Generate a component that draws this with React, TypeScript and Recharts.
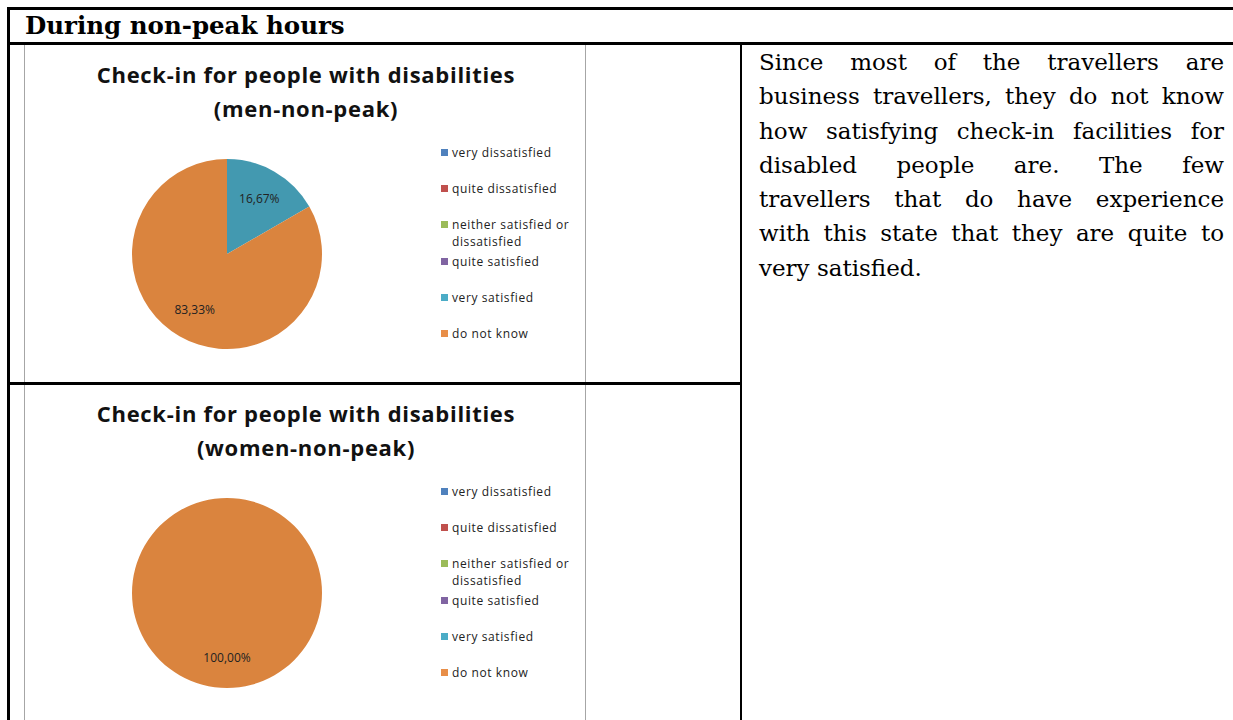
import React from 'react'
import { PieChart, Pie, Cell } from 'recharts'

const categories = [
  'very dissatisfied',
  'quite dissatisfied',
  'neither satisfied or dissatisfied',
  'quite satisfied',
  'very satisfied',
  'do not know',
]
const menValues = [0, 0, 0, 0, 16.67, 83.33]
const womenValues = [0, 0, 0, 0, 0, 100]
const sliceColors = ['#4A7EBB', '#BE4B48', '#98B954', '#7D60A0', '#4399B0', '#DA843E']
const legendColors = ['#4F81BD', '#C0504D', '#9BBB59', '#8064A2', '#4BACC6', '#E88E48']
const chartTitles = ['Check-in for people with disabilities', 'Check-in for people with disabilities']
const chartSubtitles = ['(men-non-peak)', '(women-non-peak)']
const sectionTitle = 'During non-peak hours'
const noteLines = [
  'Since most of the travellers are',
  'business travellers, they do not know',
  'how satisfying check-in facilities for',
  'disabled people are. The few',
  'travellers that do have experience',
  'with this state that they are quite to',
  'very satisfied.',
]

const RADIAN = Math.PI / 180
const chartFont = '"Open Sans", Lato, sans-serif'

function fmt(v: number) {
  return v.toFixed(2).replace('.', ',') + '%'
}

function renderLabel(props: any) {
  const { cx, cy, midAngle, outerRadius, value } = props
  if (!value) return null
  const r = outerRadius * 0.68
  const x = cx + r * Math.cos(-midAngle * RADIAN)
  const y = cy + r * Math.sin(-midAngle * RADIAN)
  return (
    <text x={x} y={y} textAnchor="middle" dominantBaseline="central" fontSize={12} fontFamily={chartFont} fill="#222">
      {fmt(value)}
    </text>
  )
}

function PieBlock({ values, title, subtitle, top }: { values: number[]; title: string; subtitle: string; top: number }) {
  const data = categories.map((name, i) => ({ name, value: values[i] }))
  return (
    <div
      style={{
        position: 'absolute',
        left: 24,
        top,
        width: 562,
        height: 337,
        borderLeft: '1px solid #a6a6a6',
        borderRight: '1px solid #a6a6a6',
        boxSizing: 'border-box',
      }}
    >
      <div
        style={{
          position: 'absolute',
          left: 0,
          top: 12,
          width: 562,
          textAlign: 'center',
          fontFamily: chartFont,
          fontWeight: 700,
          fontSize: 22,
          letterSpacing: 0.7,
          lineHeight: '34px',
          color: '#111',
          whiteSpace: 'nowrap',
        }}
      >
        <div>{title}</div>
        <div>{subtitle}</div>
      </div>
      <div style={{ position: 'absolute', left: 0, top: 0 }}>
        <PieChart width={560} height={337} margin={{ top: 0, right: 0, bottom: 0, left: 0 }}>
          <Pie
            data={data}
            dataKey="value"
            nameKey="name"
            cx={202}
            cy={209}
            outerRadius={95}
            startAngle={90}
            endAngle={-270}
            stroke="none"
            label={renderLabel}
            labelLine={false}
            isAnimationActive={false}
          >
            {data.map((d, i) => (
              <Cell key={d.name} fill={sliceColors[i]} />
            ))}
          </Pie>
        </PieChart>
      </div>
      <div style={{ position: 'absolute', left: 416, top: 99 }}>
        {categories.map((c, i) => (
          <div
            key={c}
            style={{
              position: 'absolute',
              left: 0,
              top: i * 36.2,
              width: 140,
              display: 'flex',
              fontFamily: chartFont,
              fontSize: 12,
              letterSpacing: 0.6,
              lineHeight: '17px',
              color: '#222',
            }}
          >
            <span style={{ width: 7, height: 7, background: legendColors[i], marginTop: 5, marginRight: 4, flex: 'none' }} />
            <span>{c}</span>
          </div>
        ))}
      </div>
    </div>
  )
}

export default function App() {
  const line = (style: React.CSSProperties) => <div style={{ position: 'absolute', background: '#000', ...style }} />
  return (
    <div
      style={{
        position: 'fixed',
        left: 0,
        top: 0,
        width: 1233,
        height: 720,
        overflow: 'hidden',
        background: '#fff',
      }}
    >
      <PieBlock values={menValues} title={chartTitles[0]} subtitle={chartSubtitles[0]} top={45} />
      <PieBlock values={womenValues} title={chartTitles[1]} subtitle={chartSubtitles[1]} top={384} />

      {line({ left: 7, top: 7, width: 1240, height: 3 })}
      {line({ left: 7, top: 42, width: 1240, height: 3 })}
      {line({ left: 7, top: 7, width: 3, height: 720 })}
      {line({ left: 740, top: 42, width: 2, height: 720 })}
      {line({ left: 7, top: 382, width: 735, height: 3 })}

      <div
        style={{
          position: 'absolute',
          left: 25,
          top: 10,
          fontFamily: '"DejaVu Serif", serif',
          fontWeight: 700,
          fontSize: 24.5,
          lineHeight: '32px',
          color: '#000',
          whiteSpace: 'nowrap',
        }}
      >
        {sectionTitle}
      </div>

      <div style={{ position: 'absolute', left: 759, top: 45, width: 465 }}>
        {noteLines.map((t, i) => (
          <div
            key={i}
            style={{
              fontFamily: '"DejaVu Serif", serif',
              fontSize: 23,
              lineHeight: '34.3px',
              color: '#000',
              whiteSpace: 'nowrap',
              textAlign: 'justify',
              textAlignLast: i < noteLines.length - 1 ? 'justify' : 'left',
            }}
          >
            {t}
          </div>
        ))}
      </div>
    </div>
  )
}
